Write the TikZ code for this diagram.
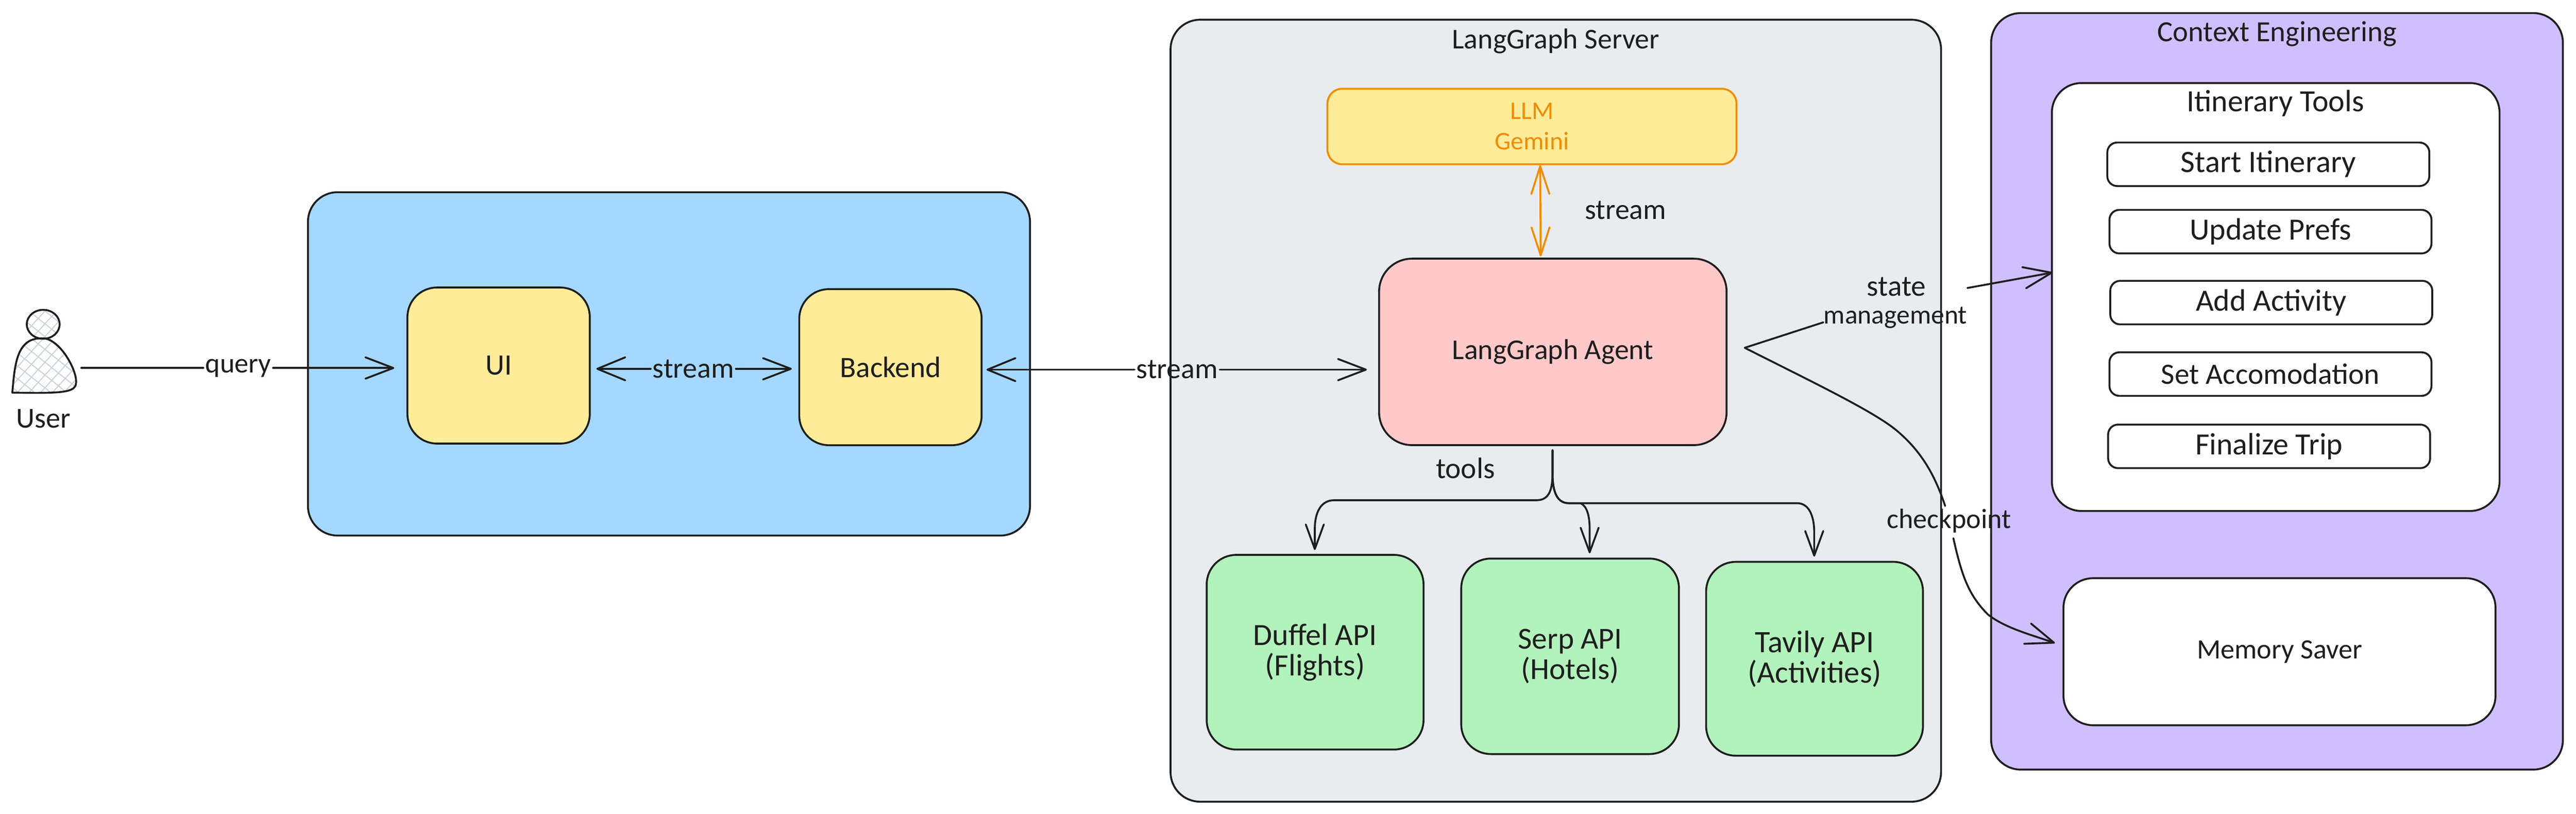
\documentclass[tikz,border=0pt]{standalone}
\usepackage{fontspec}
\setmainfont{Carlito}
\usetikzlibrary{arrows.meta}
\definecolor{inkc}{HTML}{1E1E1E}
\definecolor{blueg}{HTML}{A5D8FF}
\definecolor{yellowg}{HTML}{FFEC99}
\definecolor{pinkg}{HTML}{FFC9C9}
\definecolor{greeng}{HTML}{B2F2BB}
\definecolor{greyg}{HTML}{E9ECEF}
\definecolor{purpleg}{HTML}{D0BFFF}
\definecolor{orangec}{HTML}{F08C00}
\definecolor{hatchc}{HTML}{CBD1D8}
\tikzset{
  fs/.style={font=\fontsize{#1}{18.5}\selectfont},
  bigbox/.style={draw=inkc,line width=1.15pt,rounded corners=18pt,inner sep=0pt,align=center,text=inkc},
  smallbox/.style={draw=inkc,fill=white,line width=1.15pt,rounded corners=6pt,inner sep=0pt,minimum width=196pt,minimum height=26.5pt,text=inkc},
  lbl/.style={inner sep=1pt,text=inkc},
  conn/.style={draw=inkc,line width=1.15pt,line cap=round,line join=round},
  head/.style={-{Straight Barb[length=17pt,width=13pt,round]}},
  headback/.style={{Straight Barb[length=17pt,width=14pt,round]}-},
  headtool/.style={-{Straight Barb[length=15pt,width=11pt,round]}},
  headboth/.style={{Straight Barb[length=17pt,width=11pt,round]}-{Straight Barb[length=17pt,width=11pt,round]}},
}
\begin{document}
\begin{tikzpicture}[x=1pt,y=-1pt]
  \useasboundingbox (0,0) rectangle (1568,495.3);

  % groups
  \node[bigbox,fill=blueg,minimum width=439.5pt,minimum height=209pt] (frontend) at (407.2,221.5) {};
  \node[bigbox,fill=greyg,minimum width=469pt,minimum height=476pt] (server) at (947,250) {};
  \node[bigbox,fill=purpleg,minimum width=348pt,minimum height=460.5pt] (context) at (1386,238.2) {};
  \node[bigbox,fill=white,minimum width=272.5pt,minimum height=260.5pt] (itinerary) at (1385.2,180.8) {};
  \node[lbl,fs=17.5] (servertitle) at (947,25) {LangGraph Server};
  \node[lbl,fs=17.8] (contexttitle) at (1386,20.5) {Context Engineering};
  \node[lbl,fs=18.8] (itinerarytitle) at (1385,63) {Itinerary Tools};

  % user
  \begin{scope}
    \clip (26.3,197.4) ellipse [x radius=10,y radius=8.8];
    \foreach \d in {-8,-2,...,50} {
      \draw[hatchc,line width=0.6pt] (0,170+\d*1.3) -- (60,218+\d*1.3);
      \draw[hatchc,line width=0.6pt] (0,222+\d*1.3) -- (60,156+\d*1.3);
    }
  \end{scope}
  \begin{scope}
    \clip (7.5,239) .. controls (9,222) and (10,205) .. (26.3,206) .. controls (36,206) and (47,225) .. (46.3,233) .. controls (46,239) and (38,239.5) .. cycle;
    \foreach \d in {-8,-2,...,50} {
      \draw[hatchc,line width=0.6pt] (0,170+\d*1.3) -- (60,218+\d*1.3);
      \draw[hatchc,line width=0.6pt] (0,222+\d*1.3) -- (60,156+\d*1.3);
    }
  \end{scope}
  \draw[conn] (26.3,197.4) ellipse [x radius=10,y radius=8.8];
  \draw[conn] (7.5,239) .. controls (9,222) and (10,205) .. (26.3,206) .. controls (36,206) and (47,225) .. (46.3,233) .. controls (46,239) and (38,239.5) .. cycle;
  \coordinate (user) at (49.5,224);
  \node[lbl,fs=17.6] (username) at (26.5,255) {User};

  % front end
  \node[bigbox,fs=18,fill=yellowg,minimum width=111pt,minimum height=95pt] (ui) at (303.5,222.5) {UI};
  \node[bigbox,fs=18,fill=yellowg,minimum width=111pt,minimum height=95pt] (backend) at (542,223.5) {Backend};

  % agent and llm
  \node[bigbox,fs=17.5,fill=pinkg,minimum width=211.5pt,minimum height=113.5pt,rounded corners=20pt] (agent) at (945.2,214.2) {LangGraph Agent};
  \node[bigbox,fs=15.5,draw=orangec,fill=yellowg,text=orangec,rounded corners=9pt,minimum width=249pt,minimum height=46pt] (llm) at (932.5,77) {LLM\\Gemini};

  % apis
  \node[bigbox,fs=18.8,fill=greeng,minimum width=132pt,minimum height=118.5pt] (duffel) at (800.5,397) {Duffel API\\(Flights)};
  \node[bigbox,fs=18.6,fill=greeng,minimum width=132.5pt,minimum height=119pt] (serp) at (955.7,399.5) {Serp API\\(Hotels)};
  \node[bigbox,fs=19,fill=greeng,minimum width=132pt,minimum height=118pt] (tavily) at (1104.5,401) {Tavily API\\(Activities)};

  % context items
  \node[smallbox,fs=19] (start) at (1380.7,100) {Start Itinerary};
  \node[smallbox,fs=18.8] (update) at (1382,141) {Update Prefs};
  \node[smallbox,fs=18.8] (add) at (1382.5,184.2) {Add Activity};
  \node[smallbox,fs=18] (setacc) at (1382,227.7) {Set Accomodation};
  \node[smallbox,fs=18.8] (finalize) at (1381.2,271.7) {Finalize Trip};
  \node[bigbox,fs=17,fill=white,minimum width=263pt,minimum height=89.5pt] (memory) at (1387.5,396.7) {Memory Saver};

  % connectors
  \node[lbl,fs=17] (query) at (145,224) {query};
  \draw[conn] (user) -- (query.west);
  \draw[conn,head] (query.east) -- (240,224);
  \node[lbl,fs=17.5] (streamui) at (422,224.5) {stream};
  \draw[conn,headback] (363,224.5) -- (streamui.west);
  \draw[conn,head] (streamui.east) -- (482,224.5);
  \node[lbl,fs=17.5] (streamback) at (716.5,225) {stream};
  \draw[conn,headback] (600.5,225) -- (streamback.west);
  \draw[conn,head] (streamback.east) -- (832,225);
  \draw[orangec,line width=1.15pt,line cap=round,headboth] (937.5,100.5) -- (937.8,156);
  \node[lbl,fs=17.5] (streamllm) at (989.5,128) {stream};

  \coordinate (toolsrc) at (945,274);
  \node[lbl,fs=18] (tools) at (892,285) {tools};
  \draw[conn,headtool] (toolsrc) -- (945,288) .. controls (945,300) and (942,304.5) .. (935,304.5) -- (812,304.5) .. controls (804,304.5) and (800.3,312) .. (800.3,322) -- (800.3,334.8);
  \draw[conn,headtool] (toolsrc) -- (945,288) .. controls (945,300) and (948,306.3) .. (955,306.3) -- (962,306.3) .. controls (966,308) and (967.6,314) .. (967.6,322) -- (967.6,336.8);
  \draw[conn,headtool] (toolsrc) -- (945,288) .. controls (945,300) and (948,306.3) .. (955,306.3) -- (1094,306.3) .. controls (1101,306.3) and (1104.3,314) .. (1104.3,324) -- (1104.3,338.8);

  \coordinate (bend) at (1062,211.7);
  \node[lbl,fs=18,inner sep=0pt] (statelbl) at (1154.4,174.5) {state};
  \node[lbl,fs=16.2,inner sep=0pt] (mgmtlbl) at (1153.7,193.5) {management};
  \draw[conn] (bend) -- (mgmtlbl.west |- 0,196.2);
  \draw[conn,head] (mgmtlbl.east |- 0,175.3) -- (1249.4,165.9);
  \node[lbl,fs=17] (checklbl) at (1186.4,317) {checkpoint};
  \draw[conn] (bend) .. controls (1100,231) and (1140,250) .. (1154.4,262) .. controls (1170,275) and (1178,290) .. (1184,308);
  \draw[conn,head] (1189,327.6) .. controls (1194,350) and (1198,362) .. (1210,374) .. controls (1220,382) and (1235,386) .. (1250.8,391.4);
\end{tikzpicture}
\end{document}
